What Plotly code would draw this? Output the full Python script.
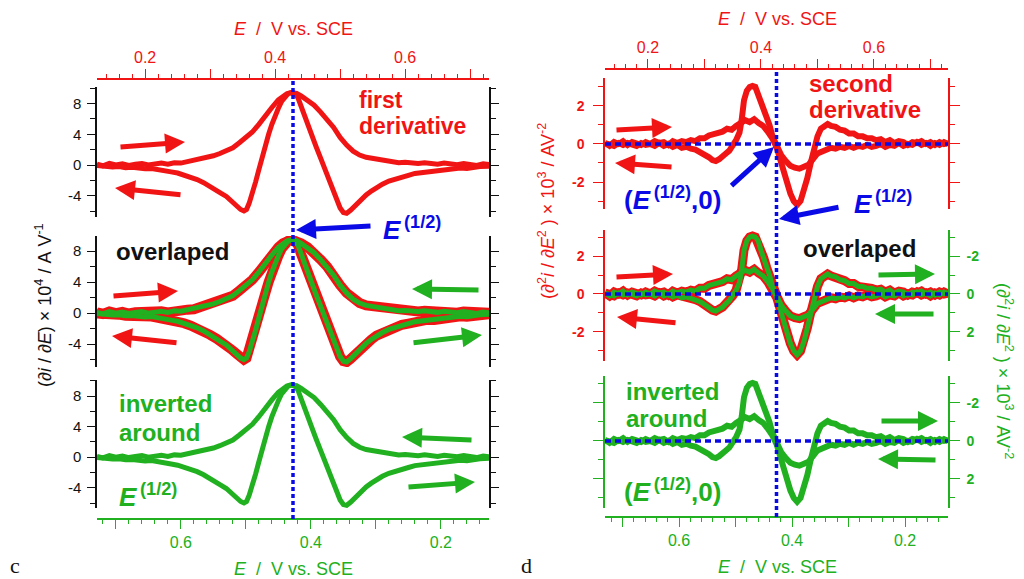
import plotly.graph_objects as go

W, H = 1024, 579
E_HALF = 0.4275  # half-wave potential, V vs. SCE

# ---- first derivative di/dE (x10^4 A V^-1), forward sweep ----
d1_fwd_E = [0.126, 0.135, 0.145, 0.155, 0.165, 0.175, 0.185, 0.195, 0.205, 0.215,
            0.225, 0.235, 0.245, 0.255, 0.265, 0.275, 0.285, 0.295, 0.305, 0.315,
            0.325, 0.335, 0.345, 0.355, 0.365, 0.375, 0.385, 0.395, 0.405, 0.412,
            0.418, 0.424, 0.430, 0.435, 0.440, 0.447, 0.455, 0.463, 0.470, 0.478,
            0.486, 0.494, 0.500, 0.505, 0.510, 0.516, 0.524, 0.532, 0.540, 0.548,
            0.556, 0.565, 0.575, 0.585, 0.595, 0.605, 0.615, 0.625, 0.635, 0.645,
            0.655, 0.665, 0.675, 0.685, 0.695, 0.705, 0.715, 0.729]
d1_fwd_I = [0.1, -0.1, 0.2, 0.0, 0.15, -0.05, 0.1, 0.2, 0.0, 0.15,
            0.25, 0.1, 0.3, 0.25, 0.45, 0.5, 0.75, 0.95, 1.2, 1.5,
            1.85, 2.25, 2.9, 3.55, 4.3, 5.3, 6.5, 7.5, 8.5, 9.0,
            9.3, 9.45, 9.3, 8.8, 7.6, 6.0, 4.3, 2.4, 0.9, -0.9,
            -2.8, -4.6, -5.6, -6.2, -6.3, -5.9, -5.2, -4.5, -3.9, -3.4,
            -2.9, -2.5, -2.1, -1.8, -1.5, -1.35, -1.1, -1.0, -0.85, -0.9,
            -0.7, -0.55, -0.6, -0.4, -0.45, -0.3, -0.2, -0.15]
# reverse sweep
d1_rev_E = [0.729, 0.72, 0.71, 0.70, 0.69, 0.68, 0.67, 0.66, 0.65, 0.64,
            0.63, 0.62, 0.61, 0.60, 0.59, 0.58, 0.57, 0.56, 0.55, 0.54,
            0.53, 0.52, 0.51, 0.50, 0.49, 0.48, 0.47, 0.46, 0.45, 0.44,
            0.433, 0.426, 0.42, 0.415, 0.41, 0.405, 0.40, 0.395, 0.39, 0.385,
            0.38, 0.375, 0.37, 0.365, 0.36, 0.356, 0.352, 0.347, 0.34, 0.333,
            0.325, 0.317, 0.31, 0.30, 0.29, 0.28, 0.27, 0.26, 0.25, 0.24,
            0.23, 0.22, 0.21, 0.20, 0.19, 0.18, 0.17, 0.16, 0.15, 0.14, 0.126]
d1_rev_I = [0.05, 0.15, -0.05, 0.1, 0.2, 0.05, 0.15, 0.25, 0.1, 0.2,
            0.3, 0.2, 0.3, 0.35, 0.3, 0.45, 0.5, 0.65, 0.8, 1.0,
            1.3, 1.8, 2.6, 3.6, 4.9, 6.0, 6.9, 7.8, 8.5, 9.0,
            9.35, 9.45, 9.3, 8.9, 8.3, 7.4, 6.5, 5.3, 4.0, 2.6,
            1.0, -0.6, -2.2, -3.8, -5.0, -5.8, -6.0, -5.8, -5.2, -4.7,
            -4.1, -3.7, -3.3, -2.8, -2.3, -1.9, -1.6, -1.3, -1.05, -0.9,
            -0.7, -0.6, -0.45, -0.5, -0.35, -0.3, -0.35, -0.2, -0.25, -0.1, -0.05]

# ---- second derivative d2i/dE2 (x10^3 A V^-2), forward sweep ----
d2_fwd_E = [0.124, 0.132, 0.14, 0.148, 0.156, 0.164, 0.172, 0.18, 0.188, 0.196,
            0.204, 0.212, 0.22, 0.228, 0.236, 0.244, 0.252, 0.26, 0.268, 0.276,
            0.284, 0.292, 0.30, 0.308, 0.316, 0.324, 0.332, 0.34, 0.348, 0.356,
            0.364, 0.372, 0.38, 0.388, 0.396, 0.404, 0.412, 0.42, 0.428, 0.436,
            0.444, 0.452, 0.458, 0.464, 0.47, 0.476, 0.482, 0.488, 0.494, 0.50,
            0.506, 0.512, 0.518, 0.524, 0.532, 0.54, 0.548, 0.556, 0.564, 0.572,
            0.58, 0.588, 0.596, 0.604, 0.612, 0.62, 0.628, 0.636, 0.644, 0.652,
            0.66, 0.668, 0.676, 0.684, 0.692, 0.70, 0.708, 0.716, 0.724, 0.731]
d2_fwd_I = [0.05, -0.1, 0.1, 0.0, 0.15, -0.05, 0.1, 0.05, -0.05, 0.1,
            0.0, 0.15, 0.05, 0.1, -0.05, 0.15, 0.05, 0.15, 0.1, 0.2,
            0.15, 0.3, 0.3, 0.45, 0.5, 0.6, 0.65, 0.8, 0.75, 0.95,
            1.1, 1.25, 1.15, 1.3, 1.1, 0.95, 0.65, 0.3, -0.2, -1.0,
            -1.9, -2.6, -3.0, -3.2, -3.0, -2.5, -1.8, -1.0, -0.2, 0.4,
            0.8, 0.95, 1.05, 0.95, 0.9, 0.75, 0.7, 0.55, 0.55, 0.4,
            0.4, 0.3, 0.3, 0.2, 0.25, 0.1, 0.2, 0.05, 0.15, 0.1,
            -0.05, 0.1, 0.05, 0.15, 0.0, 0.1, -0.05, 0.1, 0.0, 0.05]
# reverse sweep
d2_rev_E = [0.731, 0.724, 0.716, 0.708, 0.70, 0.692, 0.684, 0.676, 0.668, 0.66,
            0.652, 0.644, 0.636, 0.628, 0.62, 0.612, 0.604, 0.596, 0.588, 0.58,
            0.572, 0.564, 0.556, 0.548, 0.54, 0.532, 0.524, 0.516, 0.508, 0.50,
            0.492, 0.484, 0.476, 0.468, 0.46, 0.452, 0.444, 0.436, 0.428, 0.42,
            0.415, 0.41, 0.405, 0.40, 0.395, 0.39, 0.385, 0.38, 0.375, 0.37,
            0.366, 0.362, 0.356, 0.35, 0.344, 0.338, 0.332, 0.326, 0.32, 0.314,
            0.308, 0.30, 0.292, 0.284, 0.276, 0.268, 0.26, 0.252, 0.244, 0.236,
            0.228, 0.22, 0.212, 0.204, 0.196, 0.188, 0.18, 0.172, 0.164, 0.156,
            0.148, 0.14, 0.132, 0.124]
d2_rev_I = [0.0, 0.1, -0.05, 0.05, -0.1, 0.05, -0.05, 0.1, -0.05, 0.0,
            -0.1, 0.05, -0.1, -0.05, -0.15, 0.0, -0.1, -0.15, -0.05, -0.15,
            -0.1, -0.2, -0.1, -0.2, -0.15, -0.25, -0.2, -0.3, -0.35, -0.5,
            -0.8, -1.1, -1.2, -1.3, -1.25, -1.15, -0.9, -0.6, -0.1, 0.45,
            1.0, 1.4, 1.9, 2.3, 2.8, 3.0, 3.05, 3.0, 2.8, 2.3,
            1.3, 0.6, 0.2, -0.1, -0.35, -0.5, -0.7, -0.8, -0.9, -0.85,
            -0.7, -0.55, -0.4, -0.3, -0.25, -0.15, -0.2, -0.05, -0.15, 0.0,
            -0.1, 0.05, -0.1, 0.0, -0.05, 0.05, -0.1, 0.0, 0.05, -0.05,
            0.05, -0.1, 0.0, 0.05]

# tick labels
x_tick_vals = [0.1, 0.2, 0.3, 0.4, 0.5, 0.6, 0.7]
x_tick_text = ["", "0.2", "", "0.4", "", "0.6", ""]
y1_tick_vals = [-4, 0, 4, 8]
y1_tick_text = ["-4", "0", "4", "8"]
y2_tick_vals = [-2, 0, 2]
y2_tick_text = ["-2", "0", "2"]


def invert_E(E):
    """Mirror potentials about E(1/2)."""
    return [2 * E_HALF - e for e in E]


def negate(v):
    return [-a for a in v]


RED = "#f01414"
GREEN = "#20b020"
BLUE = "#0a0ae6"
BLACK = "#111111"
FONT = "Liberation Sans, Arial, sans-serif"


def fx(px):
    return px / W


def fy(py):
    return 1 - py / H


fig = go.Figure()


def line(x, y, xa, ya, color, width):
    fig.add_trace(go.Scatter(x=x, y=y, xaxis=xa, yaxis=ya, mode="lines",
                             line=dict(color=color, width=width),
                             showlegend=False, hoverinfo="skip"))


d1 = ((d1_fwd_E, d1_fwd_I), (d1_rev_E, d1_rev_I))
d2 = ((d2_fwd_E, d2_fwd_I), (d2_rev_E, d2_rev_I))

# ---- panel c: first derivative, overlay, inverted copy ----
for E, I in d1:
    line(E, I, "x", "y", RED, 5)
for E, I in d1:
    line(E, I, "x", "y2", RED, 10)
for E, I in d1:
    line(invert_E(E), I, "x2", "y2", GREEN, 5)
for E, I in d1:
    line(invert_E(E), I, "x2", "y3", GREEN, 5)

# ---- panel d: second derivative, overlay, copy inverted about (E1/2, 0) ----
for E, I in d2:
    line(E, I, "x3", "y4", RED, 6)
for E, I in d2:
    line(E, I, "x3", "y5", RED, 9)
for E, I in d2:
    line(invert_E(E), negate(I), "x4", "y6", GREEN, 5)
for E, I in d2:
    line(invert_E(E), negate(I), "x4", "y7", GREEN, 6)


def xaxis(dom, rng, pos, side, color):
    return dict(domain=dom, range=rng, anchor="free", position=pos, side=side,
                showline=True, linecolor=color, linewidth=1.5,
                ticks="outside", tickcolor=color, tickwidth=1.2, ticklen=9,
                tickvals=x_tick_vals, ticktext=x_tick_text,
                tickfont=dict(family=FONT, size=16, color=color),
                minor=dict(ticks="outside", dtick=0.02, tick0=0, ticklen=4,
                           tickcolor=color, tickwidth=1.2),
                showgrid=False, zeroline=False, fixedrange=True)


def yaxis(dom, rng, anchor, side, color, vals, text, mirror, bold,
          size, length, minor_len, minor_dtick, standoff):
    d = dict(domain=dom, range=rng, anchor=anchor, side=side,
             showline=True, linecolor=color, linewidth=1.5,
             ticks="outside", tickcolor=color, tickwidth=1.2, ticklen=length,
             tickvals=vals, ticktext=text, ticklabelstandoff=standoff,
             tickfont=dict(family=FONT, size=size, color=color,
                           weight="bold" if bold else "normal"),
             minor=dict(ticks="outside", dtick=minor_dtick, tick0=0,
                        ticklen=minor_len, tickcolor=color, tickwidth=1.2),
             showgrid=False, zeroline=False, fixedrange=True)
    if mirror:
        d["mirror"] = "ticks"
    return d


cdom = [fx(97), fx(489)]
ddom = [fx(605), fx(948)]

fig.update_layout(
    width=W, height=H,
    margin=dict(l=0, r=0, t=0, b=0),
    paper_bgcolor="white", plot_bgcolor="rgba(0,0,0,0)",
    showlegend=False,
    xaxis=xaxis(cdom, [0.126, 0.729], fy(79), "top", RED),
    xaxis2=xaxis(cdom, [0.729, 0.126], fy(519), "bottom", GREEN),
    xaxis3=xaxis(ddom, [0.124, 0.731], fy(69), "top", RED),
    xaxis4=xaxis(ddom, [0.731, 0.124], fy(517), "bottom", GREEN),
    yaxis=yaxis([fy(217), fy(87)], [-6.78, 10.17], "x", "left", BLACK,
                y1_tick_vals, y1_tick_text, True, False, 15, 8, 5, 2, 3),
    yaxis2=yaxis([fy(367), fy(236)], [-6.95, 9.95], "x", "left", BLACK,
                 y1_tick_vals, y1_tick_text, True, False, 15, 8, 5, 2, 3),
    yaxis3=yaxis([fy(508), fy(380)], [-6.65, 10.1], "x", "left", BLACK,
                 y1_tick_vals, y1_tick_text, True, False, 15, 8, 5, 2, 3),
    yaxis4=yaxis([fy(209), fy(78)], [-3.42, 3.47], "x3", "left", RED,
                 y2_tick_vals, y2_tick_text, True, True, 14, 10, 5, 1, 6),
    yaxis5=yaxis([fy(361), fy(230)], [-3.53, 3.37], "x3", "left", RED,
                 y2_tick_vals, y2_tick_text, False, True, 14, 10, 5, 1, 6),
    yaxis6=yaxis([fy(361), fy(230)], [3.53, -3.37], "x3", "right", GREEN,
                 y2_tick_vals, y2_tick_text, False, True, 14, 10, 5, 1, 4),
    yaxis7=yaxis([fy(508), fy(376)], [3.53, -3.42], "x3", "right", GREEN,
                 y2_tick_vals, y2_tick_text, True, True, 14, 10, 5, 1, 4),
)

# ---- E(1/2) guide lines ----
dot = dict(color=BLUE, width=3.5, dash="4px,3px")
fig.add_shape(type="line", xref="x", yref="paper", x0=E_HALF, x1=E_HALF,
              y0=fy(519), y1=fy(79), line=dot)
fig.add_shape(type="line", xref="x3", yref="paper", x0=E_HALF, x1=E_HALF,
              y0=fy(517), y1=fy(69), line=dot)
for ya in ("y4", "y5", "y7"):
    fig.add_shape(type="line", xref="x3 domain", yref=ya, x0=0, x1=1,
                  y0=0, y1=0, line=dict(color=BLUE, width=3.5, dash="6px,4px"))


def text(s, px, py, color, size, bold=True, anchor="left", angle=0,
         family=FONT):
    fig.add_annotation(text=s, x=fx(px), y=fy(py), xref="paper",
                       yref="paper", xanchor=anchor, yanchor="middle",
                       showarrow=False, textangle=angle,
                       font=dict(family=family, size=size, color=color,
                                 weight="bold" if bold else "normal"))


def arrow(tip, tail, color):
    fig.add_annotation(text="", x=fx(tip[0]), y=fy(tip[1]), xref="paper",
                       yref="paper", ax=tail[0] - tip[0], ay=tail[1] - tip[1],
                       axref="pixel", ayref="pixel", showarrow=True,
                       arrowhead=2, arrowsize=0.8, arrowwidth=5,
                       arrowcolor=color, standoff=0, startstandoff=0)


E12 = "<i>E</i><sup>\u2009(1/2)</sup>"
E12_0 = "(<i>E</i><sup>\u2009(1/2)</sup>,0)"

# panel c labels
text("first", 357, 100, RED, 23)
text("derivative", 357, 126, RED, 23)
text("overlaped", 114, 251, BLACK, 24)
text("inverted", 117, 403, GREEN, 24)
text("around", 117, 432, GREEN, 24)
text(E12, 117, 495, GREEN, 26)
text(E12, 381, 229, BLUE, 26)

arrow((185, 142), (119, 147), RED)
arrow((115, 188), (182, 195), RED)
arrow((178, 291), (112, 296), RED)
arrow((112, 336), (178, 343), RED)
arrow((412, 289), (480, 290), GREEN)
arrow((482, 335), (412, 343), GREEN)
arrow((402, 437), (473, 440), GREEN)
arrow((475, 482), (407, 487), GREEN)
arrow((296, 230), (372, 226), BLUE)

# panel d labels
text("second", 807, 84, RED, 24)
text("derivative", 807, 110, RED, 24)
text(E12_0, 622, 198, BLUE, 26)
text(E12, 852, 202, BLUE, 26)
text("overlaped", 801, 249, BLACK, 24)
text("inverted", 624, 391, GREEN, 24)
text("around", 624, 418, GREEN, 24)
text(E12_0, 622, 490, GREEN, 26)

arrow((672, 127), (615, 130), RED)
arrow((615, 163), (673, 167), RED)
arrow((774, 147), (730, 187), BLUE)
arrow((779, 219), (840, 207), BLUE)
arrow((673, 274), (615, 277), RED)
arrow((617, 317), (677, 323), RED)
arrow((935, 274), (877, 275), GREEN)
arrow((875, 314), (935, 314), GREEN)
arrow((938, 421), (880, 421), GREEN)
arrow((878, 459), (937, 460), GREEN)

# axis titles
sp = "\u00a0"
xt = "<i>E</i>" + sp * 2 + "/" + sp * 2 + "V vs. SCE"
text(xt, 293, 29, RED, 18, bold=False, anchor="center")
text(xt, 293, 569, GREEN, 18, bold=False, anchor="center")
text(xt, 777, 19, RED, 18, bold=False, anchor="center")
text(xt, 777, 567, GREEN, 18, bold=False, anchor="center")
d1t = ("(<i>\u2202i</i>" + sp + "/" + sp + "<i>\u2202E</i>)" + sp + "\u00d7" + sp
       + "10<sup>4</sup>" + sp + "/" + sp + "A" + sp + "V<sup>-1</sup>")
text(d1t, 43, 305, BLACK, 18, bold=False, anchor="center", angle=-90)
d2t = ("(<i>\u2202</i><sup>2</sup><i>i</i>" + sp + "/" + sp
       + "<i>\u2202E</i><sup>2</sup>" + sp + ")" + sp + "\u00d7" + sp
       + "10<sup>3</sup>" + sp + "/" + sp + "AV<sup>-2</sup>")
text(d2t, 546, 211, RED, 18, bold=False, anchor="center", angle=-90)
text(d2t, 1005, 371, GREEN, 18, bold=False, anchor="center", angle=90)

# panel letters
serif = "Liberation Serif, Times New Roman, serif"
text("c", 15, 565, BLACK, 22, bold=False, anchor="center", family=serif)
text("d", 526, 565, BLACK, 22, bold=False, anchor="center", family=serif)

fig.write_html("out.html")
